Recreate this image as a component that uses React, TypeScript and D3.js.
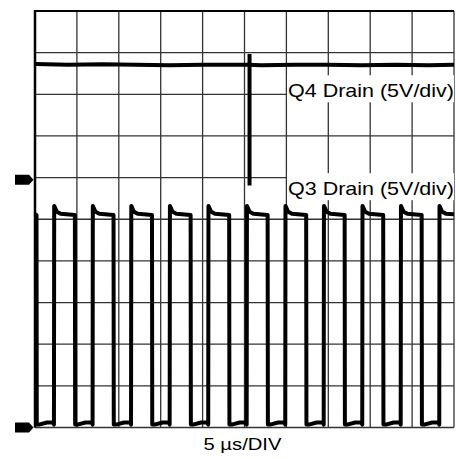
import React from 'react';
import * as d3 from 'd3';

const width = 456;
const height = 459;
const margin = { top: 11, right: 1, bottom: 31, left: 35 };

// time axis: 10 divisions at 5 µs/div
const timeTicks = [0, 5, 10, 15, 20, 25, 30, 35, 40, 45, 50];
const divTicks = [0, 1, 2, 3, 4, 5, 6, 7, 8, 9, 10];
const voltsPerDiv = 5;

// Q3 drain: edge times (µs)
const q3FallUs = [0.18, 4.76, 9.37, 13.96, 18.57, 23.17, 27.76, 32.36, 36.95, 41.55, 46.14];
const q3RiseUs = [2.26, 6.87, 11.46, 16.07, 20.67, 25.26, 29.86, 34.45, 39.05, 43.64, 48.24];
const q3LowV = 0.35;
const q3LowBumpV = 0.6;
const q3HighV = 25.6;
const q3PeakV = 26.6;
const q3GroundDiv = 0;

// Q4 drain: nearly flat, with one spike
const q4Time = [0, 4, 8, 12, 16, 20, 24, 25.4, 27, 31, 35, 39, 43, 47, 50];
const q4Volts = [13.9, 13.8, 13.85, 13.8, 13.75, 13.8, 13.8, 13.8, 13.75, 13.8, 13.8, 13.75, 13.8, 13.75, 13.8];
const q4Spike = { t: 25.6, top: 15.1, bottom: -0.7 };
const q4GroundDiv = 5.95;

const labels = [
  { text: 'Q4 Drain (5V/div)', div: 8.0 },
  { text: 'Q3 Drain (5V/div)', div: 5.65 },
];

const App: React.FC = () => {
  const x = d3.scaleLinear().domain([0, 50]).range([margin.left, width - margin.right - 1]);
  const y = d3.scaleLinear().domain([0, 10]).range([height - margin.bottom - 0.5, margin.top]);

  const q3y = (v: number) => y(q3GroundDiv + v / voltsPerDiv);
  const q4y = (v: number) => y(q4GroundDiv + v / voltsPerDiv);

  // build the Q3 square wave from its edges
  const q3Pts: [number, number][] = [[0, q3HighV]];
  q3FallUs.forEach((f, i) => {
    q3Pts.push([f, q3HighV - 0.1], [f + 0.03, q3LowV], [f + 0.3, q3LowV]);
    const r = q3RiseUs[i];
    q3Pts.push([f + (r - f) * 0.6, q3LowBumpV], [r - 0.1, q3LowBumpV], [r, q3LowV]);
    q3Pts.push([r + 0.03, q3PeakV], [r + 0.35, q3HighV + 0.3], [r + 0.8, q3HighV + 0.05]);
  });
  q3Pts.push([50, q3HighV]);
  const line = d3.line<[number, number]>()
    .x(d => x(Math.min(d[0], 50)))
    .y(d => q3y(d[1]));

  const q4Line = d3.line<number>()
    .x((_, i) => x(q4Time[i]))
    .y(d => q4y(d));

  const marker = (yy: number) =>
    `M15,${yy - 5}L29,${yy - 5}L33.5,${yy}L29,${yy + 5}L15,${yy + 5}Z`;

  const font = 'Arial, "Liberation Sans", sans-serif';

  return (
    <svg width={width} height={height} style={{ position: 'absolute', left: 0, top: 0, background: '#fff' }}>
      <defs>
        <clipPath id="plot">
          <rect x={x(0)} y={y(10)} width={x(50) - x(0)} height={y(0) - y(10)} />
        </clipPath>
      </defs>
      {/* grid */}
      <g stroke="#333" strokeWidth={1.3}>
        {timeTicks.map(t => (
          <line key={'v' + t} x1={x(t)} x2={x(t)} y1={y(0)} y2={y(10)} />
        ))}
        {divTicks.map(d => (
          <line key={'h' + d} x1={x(0)} x2={x(50)} y1={y(d)} y2={y(d)} />
        ))}
      </g>
      <line x1={x(0)} x2={x(0)} y1={y(0)} y2={y(10) - 1} stroke="#000" strokeWidth={2.5} />
      <line x1={x(0)} x2={x(50)} y1={y(10)} y2={y(10)} stroke="#000" strokeWidth={2} />

      {/* label boxes */}
      {labels.map(l => (
        <rect key={'b' + l.text} x={287} y={y(l.div) - 19} width={x(50) - 287} height={27} fill="#fff" />
      ))}

      {/* traces */}
      <g clipPath="url(#plot)" fill="none" stroke="#000" strokeLinejoin="round">
        <path d={line(q3Pts) ?? ''} strokeWidth={4} />
        <path d={q4Line(q4Volts) ?? ''} strokeWidth={4} />
        <line x1={x(q4Spike.t)} x2={x(q4Spike.t)} y1={q4y(q4Spike.top)} y2={q4y(q4Spike.bottom)} strokeWidth={4} />
      </g>

      {/* ground markers */}
      <path d={marker(q4y(0))} fill="#000" />
      <path d={marker(q3y(0))} fill="#000" />

      {labels.map(l => (
        <text key={l.text} x={288} y={y(l.div) + 2.5} fontFamily={font} fontSize={19}
          textLength={166} lengthAdjust="spacingAndGlyphs" fill="#000">
          {l.text}
        </text>
      ))}
      <text x={x(25) - 2} y={450} textAnchor="middle" fontFamily={font} fontSize={17}
        textLength={78} lengthAdjust="spacingAndGlyphs" fill="#000">
        5 µs/DIV
      </text>
    </svg>
  );
};

export default App;
